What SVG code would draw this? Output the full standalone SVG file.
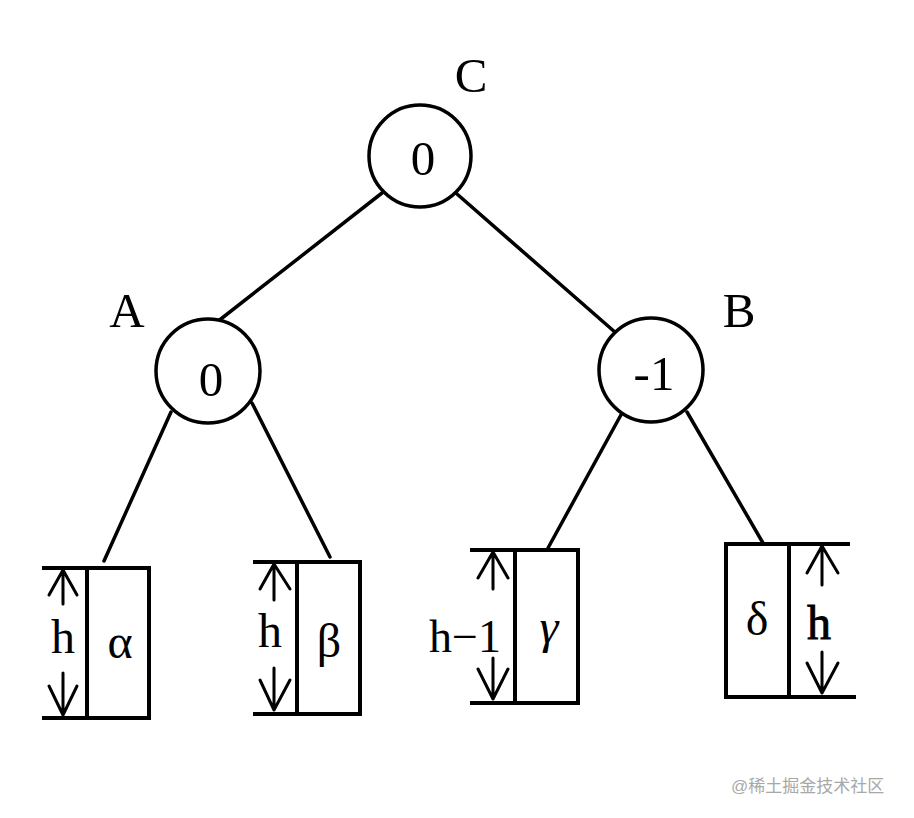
<svg xmlns="http://www.w3.org/2000/svg" width="914" height="818" viewBox="0 0 914 818">
<style>
.node{fill:#fff;stroke:#000;stroke-width:3.5}
.edge{stroke:#000;stroke-width:3.5;fill:none;stroke-linecap:round}
.box{fill:#fff;stroke:#000;stroke-width:4}
.rule{stroke:#000;stroke-width:4;fill:none}
.arr{stroke:#000;stroke-width:3;fill:none;stroke-linecap:round;stroke-linejoin:round}
.t{font-family:"Liberation Serif","Times New Roman",serif;fill:#000;text-anchor:middle}
.lbl{font-size:49px}
.val{font-size:49px}
.sym{font-size:48px}
.wm{font-family:"Liberation Sans","Noto Sans CJK SC",sans-serif;font-size:17px;fill:#a8a8a8}
</style>
<rect width="914" height="818" fill="#fff"/>
<g id="edges">
<line class="edge" x1="382" y1="193" x2="217" y2="322"/>
<line class="edge" x1="457" y1="194" x2="616" y2="333"/>
<line class="edge" x1="171" y1="412" x2="104" y2="561"/>
<line class="edge" x1="252" y1="403" x2="330" y2="557"/>
<line class="edge" x1="622" y1="413" x2="548" y2="548"/>
<line class="edge" x1="687" y1="412" x2="763" y2="543"/>
</g>
<g id="node-C">
<circle class="node" cx="420" cy="156" r="51"/>
<text class="t val" x="423" y="175">0</text>
<text class="t lbl" x="471" y="92">C</text>
</g>
<g id="node-A">
<circle class="node" cx="208" cy="371" r="52"/>
<text class="t val" x="211" y="396">0</text>
<text class="t lbl" x="127" y="327">A</text>
</g>
<g id="node-B">
<circle class="node" cx="651" cy="370" r="52"/>
<text class="t val" x="654" y="390">-1</text>
<text class="t lbl" x="739" y="327">B</text>
</g>
<g id="subtree-alpha">
<line class="rule" x1="42" y1="568" x2="149" y2="568"/>
<line class="rule" x1="42" y1="718" x2="149" y2="718"/>
<rect class="box" x="87" y="568" width="62" height="150"/>
<path class="arr" d="M63 604V570M49 595L63 570L77 595"/>
<path class="arr" d="M63 673V715M49 686L63 715L77 686"/>
<text class="t sym" x="63" y="653">h</text>
<text class="t sym" x="120" y="658">α</text>
</g>
<g id="subtree-beta">
<line class="rule" x1="253" y1="562" x2="360" y2="562"/>
<line class="rule" x1="253" y1="714" x2="360" y2="714"/>
<rect class="box" x="297" y="562" width="63" height="152"/>
<path class="arr" d="M274 600V564M260 589L274 564L290 589"/>
<path class="arr" d="M274 668V710M260 680L274 710L290 680"/>
<text class="t sym" x="270" y="647">h</text>
<text class="t sym" x="329" y="657">β</text>
</g>
<g id="subtree-gamma">
<line class="rule" x1="470" y1="550" x2="578" y2="550"/>
<line class="rule" x1="470" y1="703" x2="578" y2="703"/>
<rect class="box" x="515" y="550" width="63" height="153"/>
<path class="arr" d="M493 589V552M478 578L493 552L508 578"/>
<path class="arr" d="M493 658V699M478 669L493 699L508 669"/>
<text class="t sym" x="465" y="652" style="font-size:46px">h−1</text>
<text class="t sym" x="549" y="643" style="font-style:italic">γ</text>
</g>
<g id="subtree-delta">
<line class="rule" x1="726" y1="544" x2="850" y2="544"/>
<line class="rule" x1="726" y1="697" x2="856" y2="697"/>
<rect class="box" x="726" y="544" width="63" height="153"/>
<path class="arr" d="M822 585V546M807 573L822 546L838 573"/>
<path class="arr" d="M822 652V693M807 663L822 693L838 663"/>
<text class="t sym" x="819" y="639" style="stroke:#000;stroke-width:0.9">h</text>
<text class="t sym" x="757" y="635">δ</text>
</g>
<text class="wm" x="731" y="792">@稀土掘金技术社区</text>
</svg>
